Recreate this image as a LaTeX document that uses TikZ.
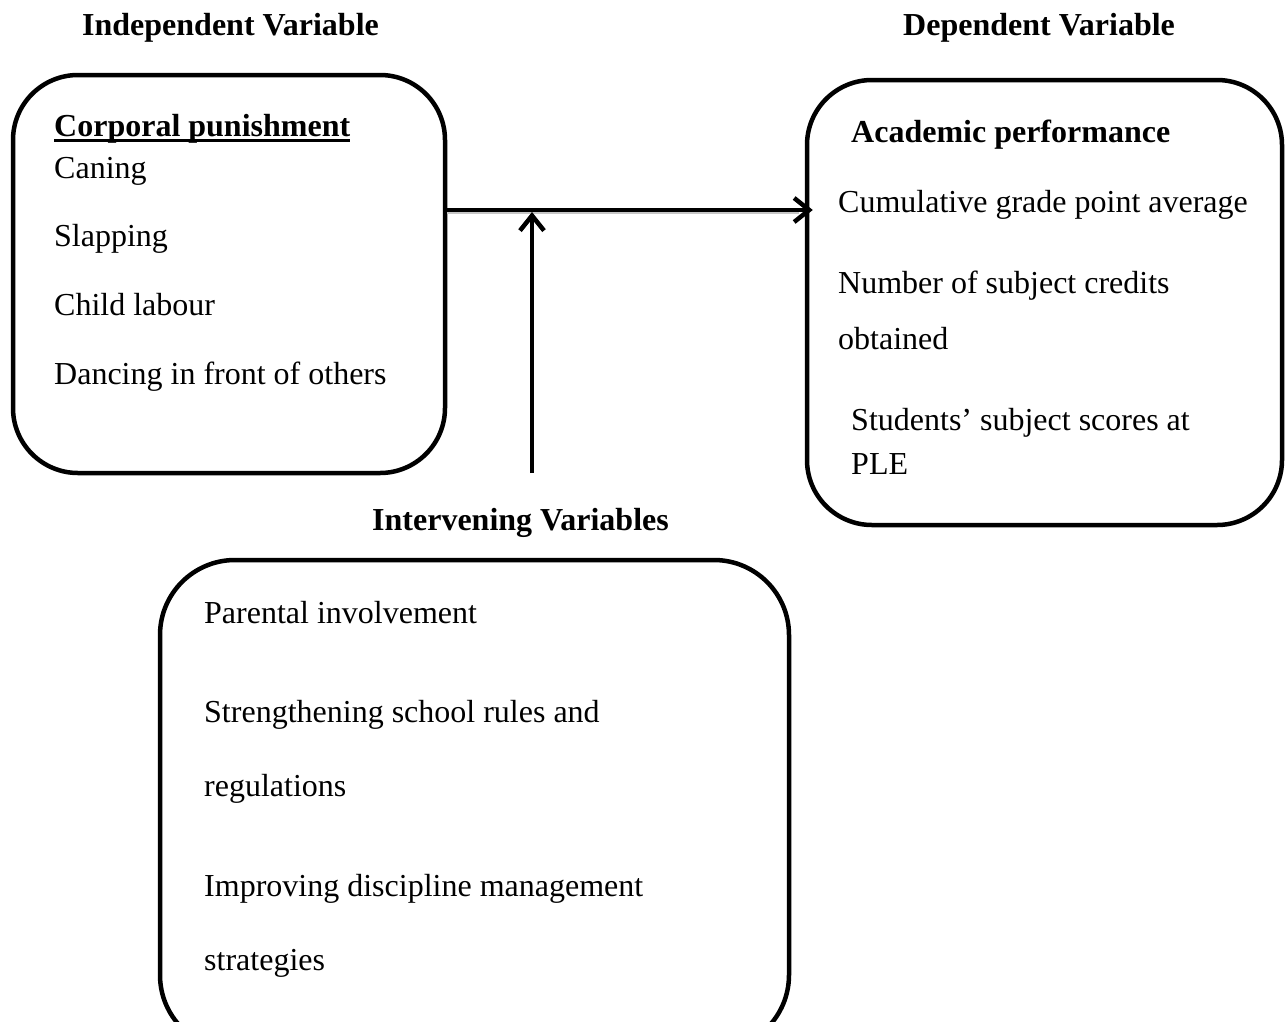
\documentclass[tikz,border=0pt]{standalone}
\usepackage{fontspec}
\setmainfont{Liberation Serif}
\usetikzlibrary{arrows.meta}
\begin{document}
\begin{tikzpicture}[x=1pt,y=-1pt,
  box/.style={draw=black, line width=4.5pt, rounded corners=65pt, inner sep=0pt},
  txt/.style={anchor=base west, inner sep=0pt, font=\fontsize{32}{38}\selectfont},
  head/.style={txt, font=\fontsize{32}{38}\selectfont\bfseries},
  arr/.style={draw=black, line width=4.5pt, -{Straight Barb[length=15pt,width=24pt,line width=4.5pt]}}
]
\useasboundingbox (0,0) rectangle (1288,1021);
\clip (0,0) rectangle (1288,1021);

% headings
\node[head] (hind) at (82,35) {Independent Variable};
\node[head] (hdep) at (903,35) {Dependent Variable};
\node[head] (hint) at (372,530) {Intervening Variables};

% boxes
\node[box, minimum width=432pt, minimum height=398pt] (ind) at (229,274) {};
\node[box, minimum width=475pt, minimum height=445pt] (dep) at (1044.5,302.5) {};
\node[box, rounded corners=75pt, minimum width=629pt, minimum height=490pt] (intv) at (474.5,805) {};

% independent variable texts
\node[head] (cp) at (54,136) {Corporal punishment};
\draw[line width=2.6pt] ([yshift=-4.5pt]cp.base west) -- ([yshift=-4.5pt]cp.base east);
\node[txt] (t1) at (54,178) {Caning};
\node[txt] (t2) at (54,246) {Slapping};
\node[txt] (t3) at (54,315) {Child labour};
\node[txt] (t4) at (54,384) {Dancing in front of others};

% dependent variable texts
\node[head] (ap) at (851,142) {Academic performance};
\node[txt] (d1) at (838,212) {Cumulative grade point average};
\node[txt] (d2) at (838,293) {Number of subject credits};
\node[txt] (d3) at (838,349) {obtained};
\node[txt] (d4) at (851,430) {Students’ subject scores at};
\node[txt] (d5) at (851,474) {PLE};

% intervening texts
\node[txt] (i1) at (204,623) {Parental involvement};
\node[txt] (i2) at (204,722) {Strengthening school rules and};
\node[txt] (i3) at (204,796) {regulations};
\node[txt] (i4) at (204,896) {Improving discipline management};
\node[txt] (i5) at (204,970) {strategies};

% connectors
\coordinate (hy) at (0,210);
\coordinate (vbot) at (532,473);
\draw[line width=2.5pt, gray!45] ([yshift=-2.5pt]ind.east |- hy) -- ([xshift=-6pt,yshift=-2.5pt]dep.west |- hy);
\draw[arr] (ind.east |- hy) -- ([xshift=8pt]dep.west |- hy);
\draw[arr] (vbot) -- ([yshift=-2pt]vbot |- hy);
\end{tikzpicture}
\end{document}
